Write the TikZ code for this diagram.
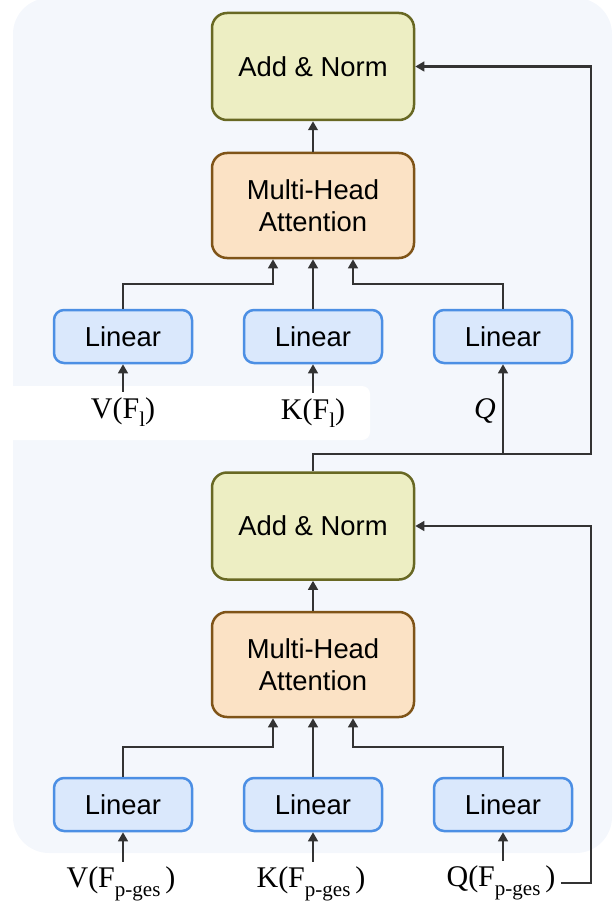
\documentclass[tikz,border=0pt]{standalone}
\usepackage{fontspec}
\setmainfont{Liberation Serif}
\setsansfont{Liberation Sans}
\usepackage{tikz}
\usetikzlibrary{arrows.meta}

\definecolor{bgblue}{HTML}{F4F7FC}
\definecolor{anfill}{HTML}{EDEEC3}
\definecolor{anline}{HTML}{686823}
\definecolor{mhafill}{HTML}{FBE2C5}
\definecolor{mhaline}{HTML}{7F5418}
\definecolor{linfill}{HTML}{DAE8FC}
\definecolor{linline}{HTML}{4C8FE4}
\definecolor{wire}{HTML}{333333}

% lowered subscript for the input names
\newcommand{\insub}[1]{\raisebox{-4.2pt}{\fontsize{10.5}{12}\selectfont #1}}

\tikzset{
  box/.style={draw, line width=1.25pt, rounded corners=7.5pt, align=center,
    font=\fontsize{13.7}{16}\selectfont\sffamily},
  addnorm/.style={box, fill=anfill, draw=anline, minimum width=101pt, minimum height=53.5pt},
  attn/.style={box, fill=mhafill, draw=mhaline, minimum width=101pt, minimum height=52.5pt},
  linear/.style={box, fill=linfill, draw=linline, rounded corners=5pt,
    minimum width=69pt, minimum height=26.5pt},
  lbl/.style={inner sep=2.5pt, font=\fontsize{15}{18}\selectfont\rmfamily},
  conn/.style={draw=wire, line width=1.2pt},
  arr/.style={conn, -{Triangle[length=4.5pt,width=4.8pt]}},
}

\begin{document}
\begin{tikzpicture}[x=0.5pt,y=-0.5pt]
\useasboundingbox (0,0) rectangle (613,909);

% panel behind both layers, with the gap for the top inputs
\fill[bgblue, rounded corners=18pt] (13,-2) rectangle (612,853);
\fill[white, rounded corners=4pt] (0,386) rectangle (370,440);

% one attention layer: add&norm, attention, three linear maps
\foreach \n/\ya/\ym/\yl/\rise in {1/526/664.5/804.5/30, 2/66.5/205.5/336.5/25} {
    \node[addnorm] (an\n) at (313,\ya) {Add \& Norm};
    \node[attn] (mha\n) at (313,\ym) {Multi-Head\\Attention};
    \node[linear] (linv\n) at (123,\yl) {Linear};
    \node[linear] (link\n) at (313,\yl) {Linear};
    \node[linear] (linq\n) at (503,\yl) {Linear};
    \draw[arr] (mha\n) -- (an\n);
    \draw[arr] (linv\n.north) -- ++(0,-\rise) -| ([xshift=-20pt]mha\n.south);
    \draw[arr] (link\n) -- (mha\n);
    \draw[arr] (linq\n.north) -- ++(0,-\rise) -| ([xshift=20pt]mha\n.south);
}

% inputs
\node[lbl] (v2) at (123,412) {V(F\insub{l})};
\node[lbl] (k2) at (313,413) {K(F\insub{l})};
\node[lbl] (q2) at (485,411) {\textit{Q}};
\node[lbl] (v1) at (121,884) {V(F\insub{p-ges}\,)};
\node[lbl] (k1) at (311,884) {K(F\insub{p-ges}\,)};
\node[lbl] (q1) at (501,883) {Q(F\insub{p-ges}\,)};

\draw[arr] (linv2.south |- v2.north) -- (linv2.south);
\draw[arr] (link2.south |- k2.north) -- (link2.south);
\draw[arr] (linv1.south |- v1.north) -- (linv1.south);
\draw[arr] (link1.south |- k1.north) -- (link1.south);
\draw[arr] (linq1.south |- q1.north) -- (linq1.south);

% residual paths
\coordinate (rail) at (591,0);
\coordinate (split) at (503,454);
\draw[arr] (an1.north) |- (split) -- (split -| rail) |- (an2.east);
\draw[arr] (split) -- (linq2.south);
\draw[arr] (q1.east) -- (q1.east -| rail) |- (an1.east);
\end{tikzpicture}
\end{document}
